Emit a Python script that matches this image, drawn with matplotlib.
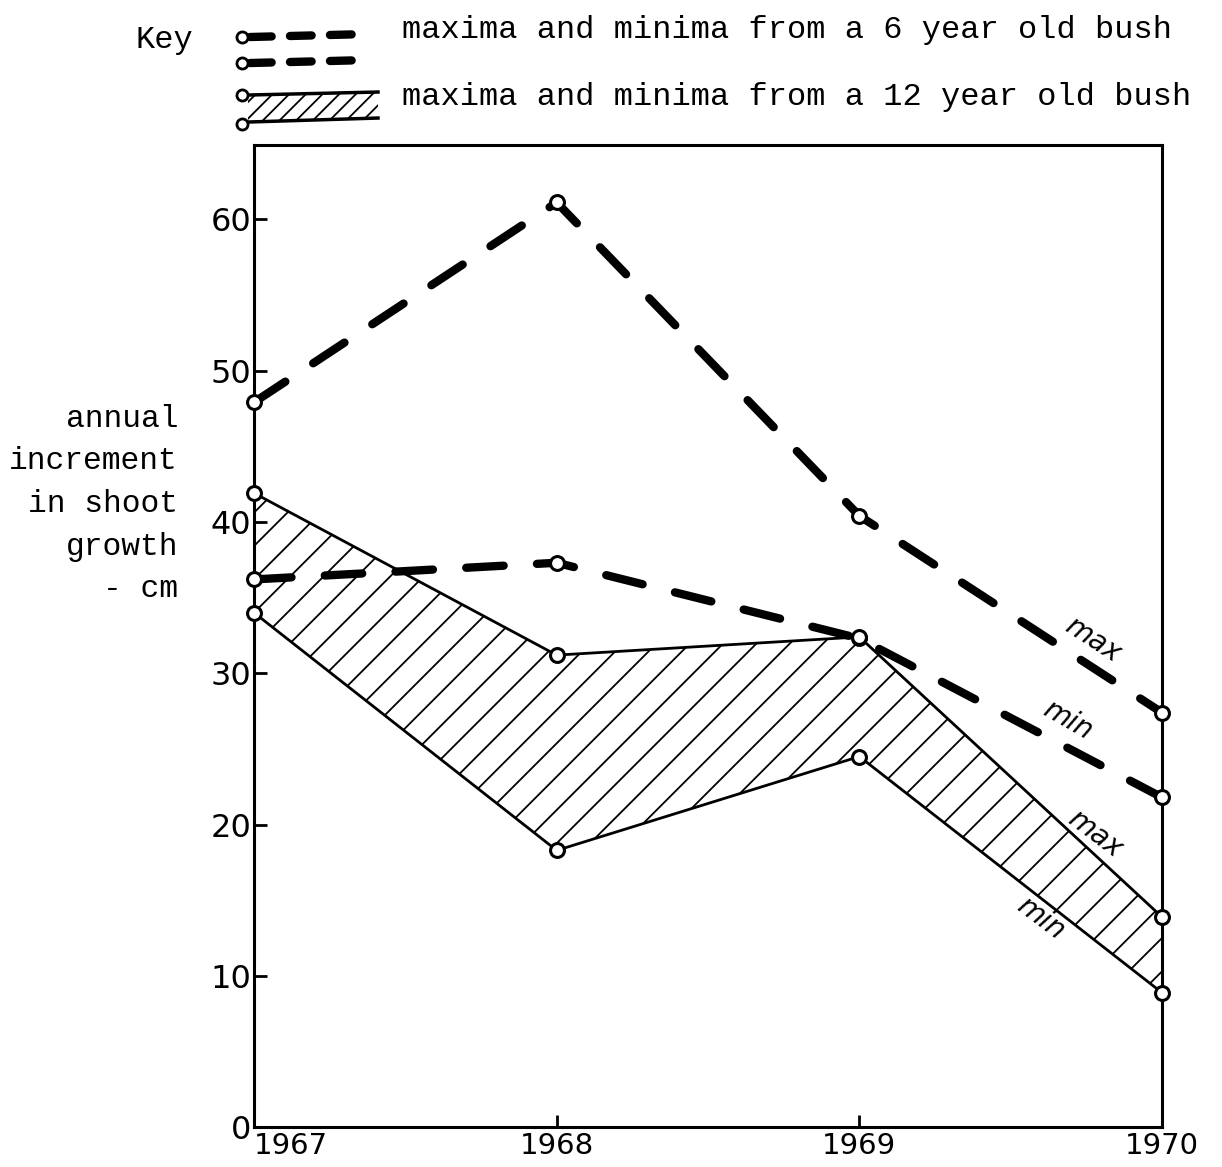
import matplotlib.pyplot as plt
import numpy as np

years = [1967, 1968, 1969, 1970]

# 6 year old bush
six_max = [47.9, 61.1, 40.4, 27.4]
six_min = [36.2, 37.3, 32.3, 21.8]

# 12 year old bush
twelve_max = [41.9, 31.2, 32.4, 13.9]
twelve_min = [34.0, 18.3, 24.5, 8.9]

y_ticks = [0, 10, 20, 30, 40, 50, 60]

key_6 = "maxima and minima from a 6 year old bush"
key_12 = "maxima and minima from a 12 year old bush"
ylabel = "annual\nincrement\nin shoot\ngrowth\n- cm"

mono = "Liberation Mono"
plt.rcParams["hatch.linewidth"] = 1.3

fig = plt.figure(figsize=(12.22, 11.67), dpi=100)
ax = fig.add_axes([0.2079, 0.0339, 0.743, 0.8419])

# 12 year: hatched band between thin solid lines
ax.fill_between(years, twelve_min, twelve_max, facecolor="none", edgecolor="black",
                hatch="/", linewidth=0, zorder=1)
ax.plot(years, twelve_max, color="black", lw=2, zorder=2)
ax.plot(years, twelve_min, color="black", lw=2, zorder=2)

# 6 year: thick dashed lines
for vals in [six_max, six_min]:
    ax.plot(years, vals, color="black", lw=6, ls=(0, (4.5, 4)),
            dash_capstyle="round", zorder=3)

for vals in [six_max, six_min, twelve_max, twelve_min]:
    ax.plot(years, vals, ls="none", marker="o", ms=10, mfc="white", mec="black",
            mew=2.2, zorder=5, clip_on=False)

# max / min notes
notes = [("max", 1969.77, 32.2, -33), ("min", 1969.69, 26.9, -30),
         ("max", 1969.78, 19.4, -37), ("min", 1969.60, 13.8, -37)]
for txt, x, y, rot in notes:
    ax.text(x, y, txt, rotation=rot, fontsize=20, style="italic",
            ha="center", va="center", zorder=6)

ax.set_xlim(1967, 1970)
ax.set_ylim(0, 64.9)
ax.set_xticks(years)
ax.set_xticklabels([str(y) for y in years])
ax.set_yticks(y_ticks)
ax.tick_params(direction="in", length=9, width=2)
ax.tick_params(axis="y", pad=2, labelsize=23)
ax.tick_params(axis="x", pad=3, labelsize=21)
ax.get_xticklabels()[0].set_horizontalalignment("left")
for s in ax.spines.values():
    s.set_linewidth(2.2)

fig.text(178 / 1222, 1 - 504 / 1167, ylabel, ha="right", va="center",
         multialignment="right", family=mono, fontsize=22.5, linespacing=1.55)

# key, drawn in pixel units of the top strip
kx = fig.add_axes([0, 0.88, 1, 0.12])
kx.set_xlim(0, 1222)
kx.set_ylim(140, 0)
kx.axis("off")

kx.text(135, 40, "Key", family=mono, fontsize=23, va="center")
kx.text(402, 30, key_6, family=mono, fontsize=23, va="center")
kx.text(402, 97, key_12, family=mono, fontsize=23, va="center")

for yy in [37, 63]:
    kx.plot([250, 368], [yy, yy - 3], color="black", lw=6, ls=(0, (2.6, 2.2)),
            dash_capstyle="round")
    kx.plot([242], [yy], ls="none", marker="o", ms=8, mfc="white", mec="black", mew=2)

band_x = np.array([248, 378])
kx.fill_between(band_x, [122, 118], [95, 92], facecolor="none", edgecolor="black",
                hatch="//", linewidth=0)
kx.plot(band_x, [95, 92], color="black", lw=2.5)
kx.plot(band_x, [122, 118], color="black", lw=2.5)
kx.plot([242, 242], [95, 124], ls="none", marker="o", ms=8, mfc="white", mec="black", mew=2)

fig.savefig("out.png", dpi=100)
